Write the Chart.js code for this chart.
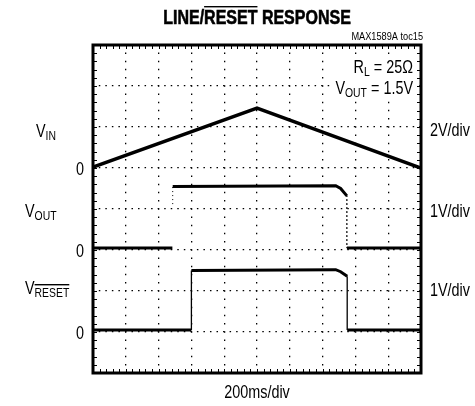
<!DOCTYPE html>
<html>
<head>
<meta charset="utf-8">
<script src="https://cdn.jsdelivr.net/npm/chart.js@4.4.1/dist/chart.umd.min.js"></script>
<style>body{margin:0;background:#fff}</style>
</head>
<body>
<canvas id="chart" width="475" height="406"></canvas>
<script>
// x in time divisions (200ms/div), y in screen divisions from the bottom
const vinTime = [0, 5, 10];
const vinLevel = [5.02, 6.46, 5.0];

const voutTime = [0, 2.42, 2.43, 2.43, 2.43, 7.4, 7.55, 7.74, 7.74, 10];
const voutLevel = [3.05, 3.05, null, 4.12, 4.55, 4.57, 4.5, 4.32, 3.05, 3.05];

const resetTime = [0, 3.0, 3.0, 7.4, 7.55, 7.75, 7.75, 10];
const resetLevel = [1.05, 1.05, 2.5, 2.52, 2.47, 2.36, 1.05, 1.05];

const FONT = "'Liberation Sans', Arial, sans-serif";
const NARROW = 0.8; // squeeze to look like a condensed face

const toPoints = (xs, ys) => xs.map((v, i) => ({x: v, y: ys[i]}));
const isEdge = c => c.p0.parsed.x === c.p1.parsed.x;

function drawRich(ctx, parts, x, y, align, sx, heavy, bg) {
    sx = sx || NARROW;
    let w = 0;
    parts.forEach(p => { ctx.font = p.f; w += ctx.measureText(p.t).width * sx; });
    let cx = align === 'right' ? x - w : align === 'center' ? x - w / 2 : x;
    if (bg) {
        ctx.save();
        ctx.fillStyle = '#fff';
        ctx.fillRect(cx - 3, y - 15, w + 5, 21);
        ctx.restore();
    }
    parts.forEach(p => {
        ctx.font = p.f;
        const dy = p.dy || 0;
        ctx.save();
        ctx.translate(cx, y + dy);
        ctx.scale(sx, 1);
        ctx.fillText(p.t, 0, 0);
        if (heavy) { ctx.lineWidth = heavy; ctx.strokeText(p.t, 0, 0); }
        ctx.restore();
        const pw = ctx.measureText(p.t).width * sx;
        if (p.over !== undefined) ctx.fillRect(cx, y + dy - p.over, pw, 1.4);
        cx += pw;
    });
}

const scope = {
    id: 'scope',
    afterDatasetsDraw(chart) {
        const {ctx, chartArea: a, scales: {x, y}} = chart;
        ctx.save();
        ctx.strokeStyle = '#000';
        ctx.lineWidth = 1;
        ctx.beginPath();
        for (let i = 0; i <= 50; i++) {
            const px = Math.round(x.getPixelForValue(i / 5)) + 0.5;
            ctx.moveTo(px, a.top); ctx.lineTo(px, a.top + 4);
            ctx.moveTo(px, a.bottom); ctx.lineTo(px, a.bottom - 4);
        }
        for (let i = 0; i <= 40; i++) {
            const py = Math.round(y.getPixelForValue(i / 5)) + 0.5;
            ctx.moveTo(a.left, py); ctx.lineTo(a.left + 4, py);
            ctx.moveTo(a.right, py); ctx.lineTo(a.right - 4, py);
        }
        ctx.stroke();
        ctx.lineWidth = 3;
        ctx.strokeRect(a.left, a.top, a.right - a.left, a.bottom - a.top);
        ctx.restore();
    },
    afterDraw(chart) {
        const {ctx, scales: {y}} = chart;
        ctx.save();
        ctx.fillStyle = '#000';
        ctx.strokeStyle = '#000';
        ctx.textBaseline = 'alphabetic';
        const big = '18px ' + FONT, sub = '13px ' + FONT, bold = 'bold 20px ' + FONT;

        drawRich(ctx, [{t: 'LINE/', f: bold}, {t: 'RESET', f: bold, over: 18}, {t: ' RESPONSE', f: bold}], 257, 24, 'center', 0.8, 0.6);
        drawRich(ctx, [{t: 'MAX1589A toc15', f: '11.5px ' + FONT}], 423, 40, 'right');

        drawRich(ctx, [{t: 'R', f: big}, {t: 'L', f: sub, dy: 3}, {t: ' = 25\u03A9', f: big}], 413, 73, 'right', 0, 0, true);
        drawRich(ctx, [{t: 'V', f: big}, {t: 'OUT', f: sub, dy: 3}, {t: ' = 1.5V', f: big}], 413, 94, 'right', 0, 0, true);

        drawRich(ctx, [{t: 'V', f: big}, {t: 'IN', f: sub, dy: 3}], 36, 137, 'left');
        drawRich(ctx, [{t: 'V', f: big}, {t: 'OUT', f: sub, dy: 3}], 25, 217, 'left');
        drawRich(ctx, [{t: 'V', f: big}, {t: 'RESET', f: sub, dy: 3, over: 13}], 25, 294, 'left');

        [5, 3, 1].forEach(v => drawRich(ctx, [{t: '0', f: big}], 84, y.getPixelForValue(v) + 7, 'right'));

        drawRich(ctx, [{t: '2V/div', f: big}], 430, 136, 'left');
        drawRich(ctx, [{t: '1V/div', f: big}], 430, 217, 'left');
        drawRich(ctx, [{t: '1V/div', f: big}], 430, 296, 'left');

        drawRich(ctx, [{t: '200ms/div', f: big}], 257, 398, 'center');
        ctx.restore();
    }
};

const line = (label, pts, width, edgeWidth, edgeDash) => ({
    label: label,
    data: pts,
    borderColor: '#000',
    borderWidth: width,
    pointRadius: 0,
    tension: 0,
    spanGaps: false,
    segment: {
        borderWidth: c => isEdge(c) ? edgeWidth : width,
        borderDash: c => isEdge(c) ? edgeDash : []
    }
});

const chart = new Chart(document.getElementById('chart').getContext('2d'), {
    type: 'line',
    data: {
        datasets: [
            line('VIN', toPoints(vinTime, vinLevel), 3.5, 3.5, []),
            line('VOUT', toPoints(voutTime, voutLevel), 3, 1, [1, 3]),
            line('VRESET', toPoints(resetTime, resetLevel), 3, 1.3, [])
        ]
    },
    plugins: [scope],
    options: {
        responsive: false,
        animation: false,
        layout: {padding: {left: 93, right: 54, top: 45, bottom: 33}},
        plugins: {legend: {display: false}, tooltip: {enabled: false}},
        scales: {
            x: {
                type: 'linear', min: 0, max: 10,
                ticks: {display: false, stepSize: 1},
                grid: {color: '#000', lineWidth: 1.3, drawTicks: false},
                border: {display: false, dash: [1.5, 6.7], dashOffset: 0.75}
            },
            y: {
                type: 'linear', min: 0, max: 8,
                ticks: {display: false, stepSize: 1},
                grid: {color: '#000', lineWidth: 1.3, drawTicks: false},
                border: {display: false, dash: [1.5, 5.04], dashOffset: 0.75}
            }
        }
    }
});
</script>
</body>
</html>
